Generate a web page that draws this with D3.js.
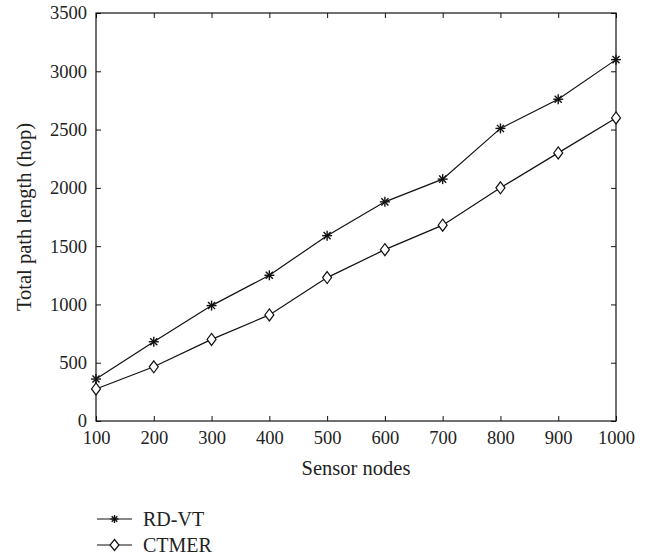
<!DOCTYPE html>
<html>
<head>
<meta charset="utf-8">
<script src="https://cdn.jsdelivr.net/npm/d3@7"></script>
<style>
  body { margin: 0; background: #fff; }
  text { font-family: "Liberation Serif", "DejaVu Serif", serif; fill: #222; }
</style>
</head>
<body>
<div id="chart"></div>
<script>
const nodes = [100, 200, 300, 400, 500, 600, 700, 800, 900, 1000];
const rdvt = [360, 680, 990, 1250, 1590, 1880, 2075, 2510, 2760, 3100];
const ctmer = [275, 465, 700, 910, 1230, 1470, 1680, 2000, 2300, 2600];
const yTicks = [0, 500, 1000, 1500, 2000, 2500, 3000, 3500];

const svg = d3.select("#chart")
    .append("svg")
    .attr("width", 658)
    .attr("height", 559);

let margin = {top: 13, right: 42, bottom: 138, left: 96},
    width = 658 - margin.left - margin.right,
    height = 559 - margin.top - margin.bottom;

let x = d3.scaleLinear().domain([100, 1000]).range([0, width]),
    y = d3.scaleLinear().domain([0, 3500]).range([height, 0]);

let g = svg.append("g")
    .attr("transform", "translate(" + margin.left + "," + margin.top + ")");

function styleAxis(sel) {
  sel.select(".domain").remove();
  sel.selectAll(".tick line").attr("stroke", "#111").attr("stroke-width", 1);
  sel.selectAll(".tick text").style("font-size", "18.5px").attr("fill", "#222");
}

// bottom and left axes with labels, ticks point inward
g.append("g")
    .attr("transform", "translate(0," + height + ")")
    .call(d3.axisBottom(x).tickValues(nodes).tickSize(-5).tickPadding(10).tickFormat(d3.format("d")))
    .call(styleAxis);

g.append("g")
    .call(d3.axisLeft(y).tickValues(yTicks).tickSize(-5).tickPadding(9).tickFormat(d3.format("d")))
    .call(styleAxis);

// top and right: ticks only
g.append("g")
    .call(d3.axisTop(x).tickValues(nodes).tickSize(-5).tickFormat(""))
    .call(styleAxis);

g.append("g")
    .attr("transform", "translate(" + width + ",0)")
    .call(d3.axisRight(y).tickValues(yTicks).tickSize(-5).tickFormat(""))
    .call(styleAxis);

g.append("rect")
    .attr("width", width)
    .attr("height", height)
    .attr("fill", "none")
    .attr("stroke", "#111")
    .attr("stroke-width", 1.2);

// axis titles
svg.append("text")
    .attr("x", margin.left + width / 2)
    .attr("y", 475)
    .attr("text-anchor", "middle")
    .style("font-size", "20.5px")
    .text("Sensor nodes");

svg.append("text")
    .attr("transform", "translate(31," + (margin.top + height / 2) + ") rotate(-90)")
    .attr("text-anchor", "middle")
    .style("font-size", "20.5px")
    .text("Total path length (hop)");

const line = d3.line()
    .x(function(d, i) { return x(nodes[i]); })
    .y(function(d) { return y(d); });

function star(sel, cx, cy, r) {
  const s = sel.append("g").attr("transform", "translate(" + cx + "," + cy + ")");
  const d = r * 0.707;
  [[-r, 0, r, 0], [0, -r, 0, r], [-d, -d, d, d], [-d, d, d, -d]].forEach(function(p) {
    s.append("line")
        .attr("x1", p[0]).attr("y1", p[1]).attr("x2", p[2]).attr("y2", p[3])
        .attr("stroke", "#111").attr("stroke-width", 1.4);
  });
}

function diamond(sel, cx, cy, w, h) {
  sel.append("path")
      .attr("d", "M" + cx + "," + (cy - h) + "L" + (cx + w) + "," + cy + "L" + cx + "," + (cy + h) + "L" + (cx - w) + "," + cy + "Z")
      .attr("fill", "#fff")
      .attr("stroke", "#111")
      .attr("stroke-width", 1.2);
}

g.append("path")
    .datum(rdvt)
    .attr("fill", "none")
    .attr("stroke", "#111")
    .attr("stroke-width", 1.2)
    .attr("d", line);

g.append("path")
    .datum(ctmer)
    .attr("fill", "none")
    .attr("stroke", "#111")
    .attr("stroke-width", 1.2)
    .attr("d", line);

rdvt.forEach(function(d, i) { star(g, x(nodes[i]), y(d), 5); });
ctmer.forEach(function(d, i) { diamond(g, x(nodes[i]), y(d), 4.5, 6); });

// legend
const legend = svg.append("g");
legend.append("line")
    .attr("x1", 97).attr("x2", 132).attr("y1", 519).attr("y2", 519)
    .attr("stroke", "#111").attr("stroke-width", 1.2);
star(legend, 114.5, 519, 4);
legend.append("text")
    .attr("x", 143).attr("y", 526)
    .style("font-size", "20px")
    .text("RD-VT");

legend.append("line")
    .attr("x1", 97).attr("x2", 132).attr("y1", 545).attr("y2", 545)
    .attr("stroke", "#111").attr("stroke-width", 1.2);
diamond(legend, 114.5, 545, 4.5, 5.5);
legend.append("text")
    .attr("x", 143).attr("y", 552)
    .style("font-size", "20px")
    .text("CTMER");
</script>
</body>
</html>
